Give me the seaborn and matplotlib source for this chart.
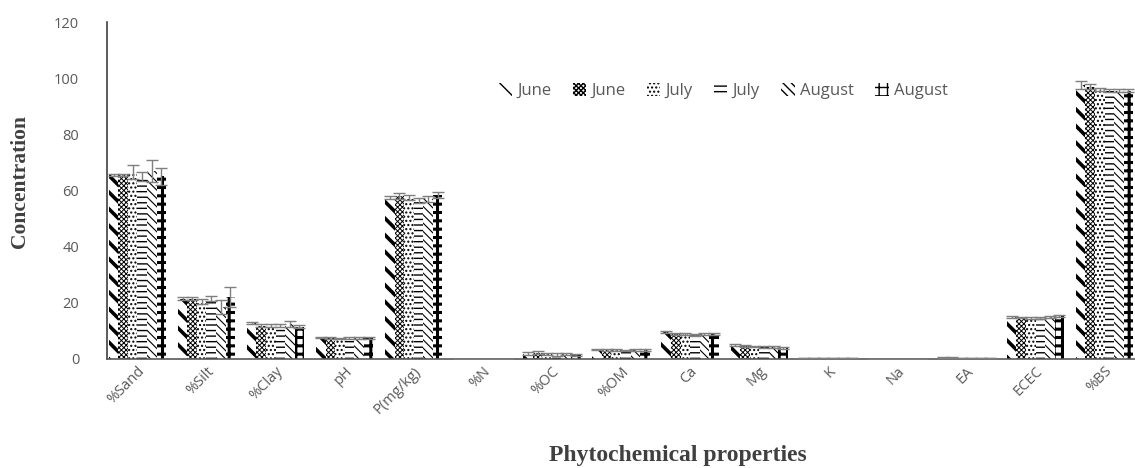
import numpy as np
import pandas as pd
import matplotlib
matplotlib.use("Agg")
import matplotlib.pyplot as plt
from matplotlib.patches import Patch
import seaborn as sns

# Soil properties on the x axis
properties = ["%Sand", "%Silt", "%Clay", "pH", "P(mg/kg)", "%N", "%OC", "%OM",
              "Ca", "Mg", "K", "Na", "EA", "ECEC", "%BS"]

# Six sampling series (two per month)
series_labels = ["June", "June", "July", "July", "August", "August"]

june_a = [65.5, 21.5, 12.8, 7.6, 57.5, 0.15, 2.0, 3.4, 9.5, 5.0, 0.3, 0.1, 0.5, 15.0, 97.5]
june_b = [65.5, 21.5, 11.8, 7.4, 58.0, 0.15, 2.2, 3.2, 9.0, 4.6, 0.3, 0.1, 0.5, 14.8, 97.0]
july_a = [66.5, 20.5, 11.8, 7.3, 57.5, 0.15, 1.8, 3.1, 8.8, 4.4, 0.3, 0.1, 0.4, 14.6, 96.0]
july_b = [65.0, 21.5, 11.8, 7.4, 56.5, 0.15, 1.6, 3.0, 8.6, 4.3, 0.3, 0.1, 0.4, 14.6, 95.5]
aug_a = [67.0, 18.5, 12.5, 7.5, 57.0, 0.15, 1.7, 3.1, 8.8, 4.2, 0.3, 0.1, 0.3, 15.0, 95.5]
aug_b = [65.0, 22.0, 11.5, 7.5, 58.5, 0.15, 1.5, 3.2, 8.8, 4.0, 0.3, 0.1, 0.3, 15.4, 95.5]

june_a_err = [0.5, 0.5, 0.5, 0.3, 0.5, 0.0, 0.5, 0.3, 0.4, 0.3, 0.0, 0.0, 0.1, 0.3, 1.5]
june_b_err = [0.5, 0.5, 0.5, 0.3, 1.0, 0.0, 0.5, 0.3, 0.4, 0.3, 0.0, 0.0, 0.1, 0.3, 1.0]
july_a_err = [2.5, 1.0, 0.5, 0.3, 0.8, 0.0, 0.4, 0.3, 0.4, 0.3, 0.0, 0.0, 0.1, 0.3, 0.5]
july_b_err = [1.5, 1.0, 0.5, 0.3, 1.0, 0.0, 0.4, 0.3, 0.4, 0.3, 0.0, 0.0, 0.1, 0.3, 0.5]
aug_a_err = [4.0, 2.5, 1.0, 0.3, 1.0, 0.0, 0.4, 0.3, 0.4, 0.3, 0.0, 0.0, 0.1, 0.3, 0.5]
aug_b_err = [3.0, 3.5, 0.5, 0.3, 1.0, 0.0, 0.4, 0.3, 0.4, 0.3, 0.0, 0.0, 0.1, 0.3, 0.5]

values = [june_a, june_b, july_a, july_b, aug_a, aug_b]
errors = [june_a_err, june_b_err, july_a_err, july_b_err, aug_a_err, aug_b_err]

series_ids = [f"s{i}" for i in range(len(series_labels))]
df = pd.DataFrame({
    "property": np.tile(properties, len(series_ids)),
    "series": np.repeat(series_ids, len(properties)),
    "value": np.concatenate(values),
})

sns.set_theme(style="white")
plt.rcParams["font.family"] = ["Open Sans", "DejaVu Sans"]
plt.rcParams["hatch.color"] = "black"
plt.rcParams["hatch.linewidth"] = 1.0

fig = plt.figure(figsize=(11.35, 4.68), dpi=100)
ax = fig.add_axes([107 / 1135, 1 - 359 / 468, 1 - 107 / 1135, (359 - 22) / 468])

sns.barplot(data=df, x="property", y="value", hue="series", order=properties,
            hue_order=series_ids, width=0.83, errorbar=None, legend=False,
            ax=ax, saturation=1)

hatches = ["\\\\", "xxxxxxx", "....", "---", "\\\\\\\\", "++"]
hatch_lw = [2.6, 0.7, 1.0, 1.0, 0.8, 2.2]

for cont, hatch, hlw, errs in zip(ax.containers, hatches, hatch_lw, errors):
    xs, ys = [], []
    for bar in cont:
        bar.set_facecolor("white")
        bar.set_edgecolor("black")
        bar.set_linewidth(0)
        bar.set_hatch(hatch)
        if hasattr(bar, "set_hatch_linewidth"):
            bar.set_hatch_linewidth(hlw)
        xs.append(bar.get_x() + bar.get_width() / 2)
        ys.append(bar.get_height())
    ax.errorbar(xs, ys, yerr=errs, fmt="none", ecolor="#7f7f7f",
                elinewidth=1.0, capsize=4, capthick=1.0, zorder=3)

ax.set_ylim(0, 120)
ax.set_xlim(-0.44, 14.44)
ax.set_yticks(range(0, 121, 20))
ax.tick_params(axis="both", length=0, labelsize=10.5, labelcolor="#595959")
ax.tick_params(axis="y", pad=20)
plt.setp(ax.get_xticklabels(), rotation=45, ha="right", rotation_mode="anchor")

for side in ["top", "right"]:
    ax.spines[side].set_visible(False)
ax.spines["left"].set_color("#404040")
ax.spines["bottom"].set_color("#595959")
ax.spines["left"].set_linewidth(1.2)
ax.spines["bottom"].set_linewidth(1.2)

ax.set_xlabel("")
ax.set_ylabel("")
fig.text(0.018, 1 - 182 / 468, "Concentration", rotation=90, ha="center",
         va="center", family=["Liberation Serif"], fontweight="bold",
         fontsize=15.5, color="#404040")
fig.text(0.597, 1 - 455 / 468, "Phytochemical properties", ha="center",
         va="center", family=["Liberation Serif"], fontweight="bold",
         fontsize=17, color="#404040")

handles = []
for hatch in hatches:
    h = Patch(facecolor="white", edgecolor="black", linewidth=0, hatch=hatch)
    handles.append(h)
fig.legend(handles, series_labels, loc="center", bbox_to_anchor=(0.637, 1 - 91 / 468),
           ncol=6, frameon=False, handlelength=0.8, handleheight=0.8,
           columnspacing=1.3, handletextpad=0.3, fontsize=12,
           labelcolor="#595959")

fig.savefig("out.png", dpi=100)
